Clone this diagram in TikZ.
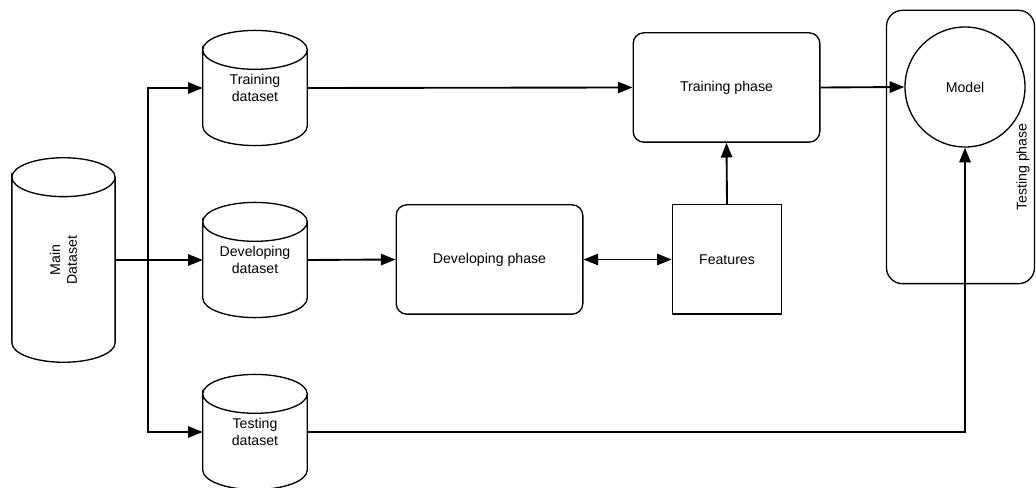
\documentclass[tikz,border=0pt]{standalone}
\usepackage{fontspec}
\setmainfont{Liberation Sans}
\usetikzlibrary{arrows.meta, positioning, calc}

\begin{document}
\begin{tikzpicture}[
    x=0.75pt, y=-0.75pt,
    font=\fontsize{10.6pt}{12.6pt}\selectfont,
    dbase/.style = {
      minimum width=78pt, minimum height=86pt, align=center, inner sep=0pt,
      append after command={\pgfextra{
        \draw[line width=1pt] let \p1=(\tikzlastnode.north west), \p2=(\tikzlastnode.south east) in
          (\x1,\y1-14.6pt) arc[start angle=180, end angle=-180, x radius={(\x2-\x1)/2}, y radius=14.6pt]
          -- (\x1,\y2+14.6pt) arc[start angle=180, end angle=360, x radius={(\x2-\x1)/2}, y radius=14.6pt]
          -- (\x2,\y1-14.6pt);
      }}
    },
    phase/.style = {
      draw, rounded corners=8pt, line width=1pt,
      minimum width=140pt, minimum height=82pt, align=center
    },
    feat/.style = {
      draw, line width=1pt, minimum width=82pt, minimum height=82pt
    },
    arr/.style = {-{Triangle[length=11pt, width=8.5pt]}, line width=1.4pt},
    darr/.style = {{Triangle[length=11pt, width=8.5pt]}-{Triangle[length=11pt, width=8.5pt]}, line width=1.4pt},
  ]
    \useasboundingbox (0,0) rectangle (1036,488);

    % Datasets
    \node[dbase, minimum width=77pt, minimum height=153pt] (main) at (63.5,260) {};
    \node[rotate=90, align=center] (mainlbl) at (main.center) {Main\\Dataset};
    \node[dbase] (trainds) at (255,88)  {Training\\dataset};
    \node[dbase] (devds)   at (255,260) {Developing\\dataset};
    \node[dbase] (testds)  at (255,432) {Testing\\dataset};

    % Phases
    \node[phase] (devph)   at (489.5,259.5) {Developing phase};
    \node[feat]  (feats)   at (727,259.5)   {Features};
    \node[phase] (trainph) at (726.5,87.5)  {Training phase};

    % Testing phase + model
    \node[draw, rounded corners=12pt, line width=1pt,
          minimum width=111pt, minimum height=205pt] (testph) at (960.5,147) {};
    \node[draw, circle, line width=1pt, minimum size=90pt] (model) at (965,87) {Model};
    \node[rotate=90] (testlbl) at (1023,167) {Testing phase};

    % Split of the main dataset
    \coordinate (split) at (148,260);
    \draw[line width=1.4pt] (main.east) -- (split);
    \draw[arr] (split) |- (trainds.west);
    \draw[arr] (split) -- (devds.west);
    \draw[arr] (split) |- (testds.west);

    % Arrows
    \draw[arr]  (trainds.east) -- (trainph.west);
    \draw[arr]  (devds.east)   -- (devph.west);
    \draw[darr] (devph.east)   -- (feats.west);
    \draw[arr]  (feats.north)  -- (trainph.south);
    \draw[arr]  (trainph.east) -- (model.west);
    \draw[arr]  (testds.east)  -| (model.south);
  \end{tikzpicture}
\end{document}
